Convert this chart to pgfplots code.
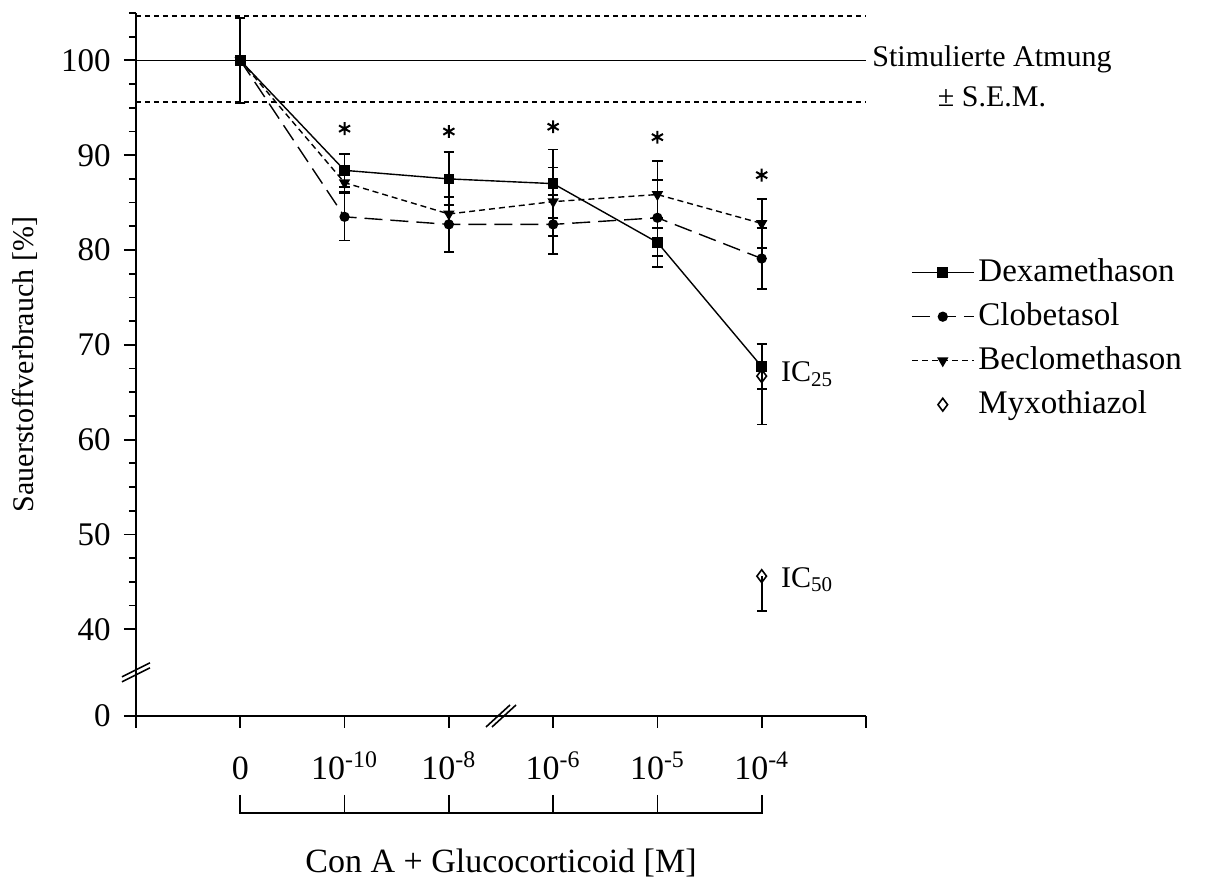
\documentclass[border=0pt]{standalone}
\usepackage{pgfplots}
\pgfplotsset{compat=1.18}
\usepackage{fontspec}
\setmainfont{Liberation Serif}
\begin{document}
\fontsize{15pt}{18pt}\selectfont
\begin{tikzpicture}
\begin{axis}[
  at={(0pt,0pt)}, anchor=south west,
  scale only axis, width=365pt, height=351.5pt,
  xmin=-1, xmax=6, ymin=30.85, ymax=105,
  axis x line*=bottom, axis y line*=left,
  axis line style={line width=0.9pt, -},
  xtick={-1,0,1,2,3,4,5,6},
  xticklabels={,0,10\textsuperscript{-10},10\textsuperscript{-8},10\textsuperscript{-6},10\textsuperscript{-5},10\textsuperscript{-4},},
  ytick={30.85,40,50,60,70,80,90,100},
  yticklabels={0,40,50,60,70,80,90,100},
  minor ytick={42.5,45,47.5,52.5,55,57.5,62.5,65,67.5,72.5,75,77.5,82.5,85,87.5,92.5,95,97.5,102.5,105},
  tick align=outside, major tick length=6pt, minor tick length=3.5pt,
  every tick/.style={line width=0.9pt, black},
  /pgf/number format/assume math mode=true,
  xticklabel style={font=\fontsize{17pt}{20pt}\selectfont, anchor=base, yshift=-26pt},
  yticklabel style={font=\fontsize{16.5pt}{20pt}\selectfont, xshift=-1.5pt},
  ylabel={Sauerstoffverbrauch [\%]},
  ylabel style={at={(axis description cs:-0.152,0.5)}, anchor=center, font=\fontsize{15pt}{18pt}\selectfont},
  xlabel={Con A + Glucocorticoid [M]},
  xlabel style={at={(axis description cs:0.5,-0.2233)}, anchor=base, font=\fontsize{17pt}{20pt}\selectfont},
  clip=false,
  legend style={at={(axis description cs:1.053,0.662)}, anchor=north west, draw=none, fill=none,
    font=\fontsize{16.5pt}{19pt}\selectfont, row sep=4.3pt},
  legend cell align=left,
  legend image code/.code={\draw[mark repeat=2,mark phase=2] plot coordinates {(0pt,0pt)(15.5pt,0pt)(31pt,0pt)};},
]
% reference lines: stimulated respiration 100 % +/- S.E.M.
\addplot[black, line width=0.7pt, forget plot] coordinates {(-1,100)(6,100)};
\addplot[black, line width=0.85pt, dash pattern=on 2.5pt off 2pt, forget plot] coordinates {(-1,104.65)(6,104.65)};
\addplot[black, line width=0.85pt, dash pattern=on 2.5pt off 2pt, forget plot] coordinates {(-1,95.6)(6,95.6)};

% Dexamethason
\addplot[black, line width=0.7pt, mark=square*, mark size=2.3pt, mark options={solid},
  error bars/.cd, y dir=both, y explicit,
  error bar style={line width=0.9pt, solid},
  error mark options={rotate=90, mark size=2.6pt, line width=0.9pt, solid}]
  table[x=x, y=y, y error=e] {
x y e
0 100 4.5
1 88.4 1.75
2 87.5 2.8
3 87.0 3.6
4 80.8 2.6
5 67.7 2.4
};
% Clobetasol
\addplot[black, line width=0.7pt, dash pattern=on 9pt off 4pt, mark=*, mark size=2.2pt, mark options={solid},
  error bars/.cd, y dir=both, y explicit,
  error bar style={line width=0.9pt, solid},
  error mark options={rotate=90, mark size=2.6pt, line width=0.9pt, solid}]
  table[x=x, y=y, y error=e] {
x y e
0 100 4.5
1 83.5 2.5
2 82.7 2.9
3 82.7 3.1
4 83.4 4.0
5 79.1 3.2
};
% Beclomethason
\addplot[black, line width=0.7pt, dash pattern=on 3pt off 2pt, mark=triangle*, mark size=2.6pt, mark options={solid, rotate=180},
  error bars/.cd, y dir=both, y explicit,
  error bar style={line width=0.9pt, solid},
  error mark options={rotate=90, mark size=2.6pt, line width=0.9pt, solid}]
  table[x=x, y=y, y error=e] {
x y e
0 100 4.5
1 87.1 1.0
2 83.8 1.0
3 85.1 3.6
4 85.85 3.55
5 82.8 2.6
};
% Myxothiazol
\addplot[black, only marks, mark=diamond, mark size=3.2pt, mark options={solid, fill=white, line width=0.8pt},
  legend image code/.code={\draw[mark=diamond, mark size=3.2pt, mark options={solid, fill=white, line width=0.8pt}] plot coordinates {(15.5pt,0pt)};},
  error bars/.cd, y dir=minus, y explicit,
  error bar style={line width=0.9pt, solid},
  error mark options={rotate=90, mark size=2.6pt, line width=0.9pt, solid}]
  table[x=x, y=y, y error=e] {
x y e
5 66.7 5.1
5 45.6 3.7
};
% significance stars
\addplot[black, only marks, mark=asterisk, mark size=3.2pt, mark options={line width=1pt}, forget plot]
  coordinates {(1,92.8)(2,92.5)(3,93.0)(4,91.9)(5,87.9)};

\legend{Dexamethason,Clobetasol,Beclomethason,Myxothiazol}

\node[anchor=base west, inner sep=0pt, xshift=9.5pt] at (axis cs:5,66.1) {IC\textsubscript{25}};
\node[anchor=base west, inner sep=0pt, xshift=9.5pt] at (axis cs:5,44.4) {IC\textsubscript{50}};
\node[anchor=west, align=center, inner sep=0pt, xshift=3pt, font=\fontsize{15pt}{20pt}\selectfont] at (axis cs:6,98.3) {Stimulierte Atmung\\± S.E.M.};

\coordinate (yb) at (axis cs:-1,35.4);
\coordinate (xb) at (axis cs:2.5,30.85);
\coordinate (b0) at (axis cs:0,30.85);
\coordinate (b1) at (axis cs:1,30.85);
\coordinate (b2) at (axis cs:2,30.85);
\coordinate (b3) at (axis cs:3,30.85);
\coordinate (b4) at (axis cs:4,30.85);
\coordinate (b5) at (axis cs:5,30.85);
\end{axis}
% axis breaks
\draw[line width=0.8pt] ([shift={(-7pt,-4.5pt)}]yb) -- ([shift={(7pt,2.5pt)}]yb);
\draw[line width=0.8pt] ([shift={(-7pt,-2pt)}]yb) -- ([shift={(7pt,5pt)}]yb);
\draw[line width=0.8pt] ([shift={(-7.5pt,-5.5pt)}]xb) -- ([shift={(4.5pt,5.5pt)}]xb);
\draw[line width=0.8pt] ([shift={(-4.5pt,-5.5pt)}]xb) -- ([shift={(7.5pt,5.5pt)}]xb);
% bracket grouping the concentrations
\draw[line width=0.8pt] ([yshift=-39.5pt]b0) -- ([yshift=-48.5pt]b0) -- ([yshift=-48.5pt]b5) -- ([yshift=-39.5pt]b5);
\foreach \i in {1,...,4} {\draw[line width=0.8pt] ([yshift=-39.5pt]b\i) -- ([yshift=-48.5pt]b\i);}
\pgfresetboundingbox
\path[use as bounding box] (-68pt,-82.5pt) rectangle (535pt,358pt);
\end{tikzpicture}
\end{document}
